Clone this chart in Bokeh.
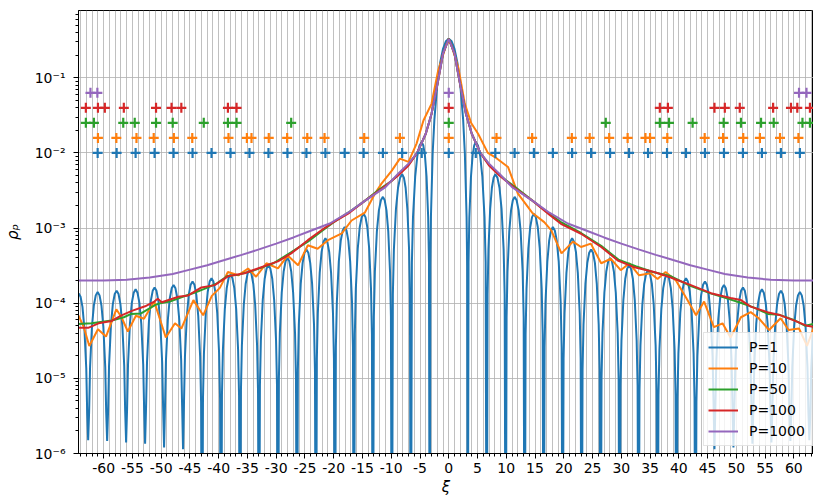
from bokeh.plotting import figure
from bokeh.models import Range1d, FixedTicker, CustomJSTickFormatter, Legend, LegendItem
from bokeh.embed import file_html
from bokeh.resources import INLINE

# ---------------- data ----------------
# P=1: main lobe (right half), zero positions, lobe peaks, dip depths
p1_main_x = [0.0, 0.5, 1.0, 1.5, 2.0, 2.5, 2.8, 3.1, 3.2]
p1_main_y = [0.33, 0.306, 0.242, 0.159, 0.081, 0.0277, 0.0098, 0.0014, 0.00032]
p1_zero_x = [3.3, 6.6, 9.9, 13.2, 16.5, 19.8, 23.1, 26.4, 29.7, 33.0, 36.3, 39.6,
             42.9, 46.2, 49.5, 52.8, 56.1, 59.4, 62.7, 66.0]
p1_dip_y = [1e-9, 1e-9, 1e-9, 1e-9, 1e-9, 1e-9, 1e-9, 1e-9, 1e-9, 1e-9, 1e-9, 1e-9,
            1e-9, 1.14e-6, 1.2e-6, 1.35e-6, 1.4e-6, 1.47e-6, 1.5e-6, 1.55e-6]
p1_peak_x = [4.7, 8.1, 11.45, 14.8, 18.1, 21.45, 24.75, 28.05, 31.35, 34.65, 37.95,
             41.25, 44.55, 47.85, 51.15, 54.45, 57.75, 61.05, 64.35]
p1_peak_y = [1.39e-2, 5.2e-3, 2.6e-3, 1.55e-3, 1.03e-3, 7.3e-4, 5.2e-4, 4.0e-4, 3.2e-4,
             2.75e-4, 2.4e-4, 2.15e-4, 1.95e-4, 1.75e-4, 1.62e-4, 1.53e-4, 1.47e-4,
             1.41e-4, 1.35e-4]
# shape of one side lobe flank (fraction of the way zero->peak, decades below peak)
lobe_frac = [0.1, 0.2, 0.4, 0.6, 0.8]
lobe_drop = [-1.6, -1.0, -0.46, -0.18, -0.045]

p10_x = [-64.4, -63.5, -62.5, -61.0, -59.6, -57.8, -56.9, -55.8, -54.4, -53.0, -51.2, -49.2,
         -47.6, -46.5, -44.4, -42.7, -41.2, -39.8, -38.4, -36.6, -34.9, -33.5, -31.7, -29.7,
         -28.0, -26.2, -24.5, -22.8, -21.0, -18.6, -16.9, -14.6, -12.8, -11.7, -9.9, -8.5,
         -7.0, -5.6, -4.4, -3.0, -1.84, -0.4, 0.0, 0.4, 1.63, 2.8, 3.9, 5.1, 6.8, 8.3, 10.3,
         12.0, 14.5, 16.6, 17.8, 19.6, 21.6, 23.0, 24.7, 26.5, 28.2, 29.9, 31.4, 33.1, 35.1,
         36.3, 37.7, 39.5, 41.5, 43.0, 44.4, 46.1, 47.6, 49.0, 50.8, 52.5, 53.9, 55.7, 57.7,
         59.1, 60.9, 62.3, 63.4, 64.4]
p10_y = [6.9e-5, 4.9e-5, 2.7e-5, 4.5e-5, 3.6e-5, 8.3e-5, 6.5e-5, 4.2e-5, 6.8e-5, 6.2e-5,
         1.05e-4, 3.5e-5, 5.4e-5, 4.6e-5, 1.1e-4, 6.9e-5, 1.25e-4, 1.6e-4, 2.6e-4, 2.35e-4,
         2.9e-4, 2.25e-4, 3.4e-4, 2.9e-4, 4.3e-4, 3.2e-4, 5.9e-4, 5.3e-4, 6.9e-4, 8.5e-4,
         1.26e-3, 1.6e-3, 2.9e-3, 3.9e-3, 5.8e-3, 8.4e-3, 7.6e-3, 1.33e-2, 2.7e-2, 4.5e-2,
         0.125, 0.28, 0.30, 0.28, 0.14, 4.5e-2, 2.5e-2, 1.8e-2, 1.0e-2, 8.5e-3, 6.5e-3,
         2.9e-3, 1.6e-3, 1.2e-3, 9.4e-4, 4.6e-4, 6.6e-4, 5.6e-4, 6.2e-4, 3.4e-4, 3.9e-4,
         2.75e-4, 3.4e-4, 2.35e-4, 2.5e-4, 2.1e-4, 2.6e-4, 2.0e-4, 1.1e-4, 6.9e-5, 1.05e-4,
         4.8e-5, 5.4e-5, 3.5e-5, 6.5e-5, 7.6e-5, 6.3e-5, 4.4e-5, 6.3e-5, 4.4e-5, 4.6e-5,
         2.7e-5, 4.6e-5, 6.0e-5]

p50_x = [-64.4, -62.1, -58.6, -56.5, -55.2, -53.5, -51.0, -50.2, -48.5, -46.5, -44.0, -42.5,
         -40.5, -38.5, -36.5, -33.5, -30.5, -27.5, -24.5, -22.0, -20.0, -17.5, -14.6, -12.0,
         -10.0, -8.5, -7.0, -5.5, -4.0, -3.0, -1.85, -1.0, 0.0, 1.0, 1.85, 3.0, 4.0, 5.5,
         7.0, 8.5, 10.0, 12.0, 14.6, 17.5, 19.5, 23.0, 26.5, 29.5, 32.5, 35.5, 38.5, 42.0,
         45.5, 48.5, 51.0, 53.0, 55.5, 57.5, 60.0, 62.0, 63.4, 64.4]
p50_y = [5.3e-5, 5.4e-5, 5.9e-5, 6.5e-5, 7.2e-5, 7.3e-5, 9.5e-5, 1.0e-4, 1.05e-4, 1.2e-4,
         1.4e-4, 1.55e-4, 1.8e-4, 2.3e-4, 2.4e-4, 2.8e-4, 3.4e-4, 4.7e-4, 6.6e-4, 9.2e-4,
         1.2e-3, 1.6e-3, 2.3e-3, 3.3e-3, 4.2e-3, 5.4e-3, 7.0e-3, 1.0e-2, 1.8e-2, 3.3e-2,
         0.092, 0.21, 0.335, 0.21, 0.092, 3.3e-2, 1.8e-2, 1.0e-2, 7.0e-3, 5.4e-3, 4.3e-3,
         3.3e-3, 2.3e-3, 1.55e-3, 1.2e-3, 8.6e-4, 5.8e-4, 3.8e-4, 3.1e-4, 2.6e-4, 2.3e-4,
         1.7e-4, 1.35e-4, 1.15e-4, 1.0e-4, 8.8e-5, 7.2e-5, 7.0e-5, 6.0e-5, 5.0e-5, 5.3e-5,
         5.3e-5]

p100_x = [-64.4, -62.7, -60.9, -58.6, -56.9, -55.1, -52.8, -51.2, -50.6, -49.9, -47.0,
          -45.3, -43.0, -40.7, -38.4, -35.5, -33.2, -29.7, -27.4, -24.5, -21.6, -20.4,
          -17.5, -14.6, -11.5, -8.8, -7.0, -5.5, -4.0, -3.0, -1.85, -1.0, 0.0, 1.0, 1.85,
          3.0, 4.0, 5.5, 7.0, 8.8, 11.5, 14.6, 17.5, 19.5, 23.0, 26.5, 29.4, 32.3, 35.7,
          38.6, 42.1, 45.6, 49.0, 50.8, 52.5, 55.4, 57.7, 60.0, 62.3, 64.4]
p100_y = [4.7e-5, 4.7e-5, 5.4e-5, 5.8e-5, 6.9e-5, 7.9e-5, 9.1e-5, 1.05e-4, 1.15e-4, 1.03e-4,
          1.22e-4, 1.27e-4, 1.62e-4, 1.74e-4, 2.28e-4, 2.5e-4, 2.9e-4, 3.6e-4, 4.6e-4,
          6.9e-4, 1.0e-3, 1.15e-3, 1.55e-3, 2.3e-3, 3.4e-3, 5.0e-3, 6.8e-3, 1.0e-2, 1.8e-2,
          3.3e-2, 0.092, 0.21, 0.33, 0.21, 0.092, 3.3e-2, 1.8e-2, 1.0e-2, 6.8e-3, 5.0e-3,
          3.4e-3, 2.3e-3, 1.5e-3, 1.14e-3, 8.4e-4, 5.6e-4, 3.7e-4, 3.0e-4, 2.6e-4, 2.2e-4,
          1.74e-4, 1.36e-4, 1.17e-4, 1.1e-4, 9.0e-5, 7.6e-5, 6.9e-5, 5.9e-5, 5.0e-5, 4.7e-5]

p1000_x = [-64.4, -60.0, -56.0, -52.0, -48.0, -45.0, -42.0, -39.0, -36.0, -33.0, -30.0,
           -27.0, -24.0, -20.7, -17.5, -14.6, -11.0, -8.8, -7.0, -5.5, -4.0, -3.0, -1.85,
           -1.0, 0.0, 1.0, 1.85, 3.0, 4.0, 5.5, 7.0, 8.8, 11.0, 14.6, 17.5, 20.7, 24.0,
           27.0, 30.0, 33.0, 36.0, 39.0, 42.0, 45.0, 48.0, 52.0, 56.0, 60.0, 64.4]
p1000_y = [2.0e-4, 2.0e-4, 2.05e-4, 2.2e-4, 2.45e-4, 2.8e-4, 3.2e-4, 3.75e-4, 4.4e-4,
           5.2e-4, 6.2e-4, 7.5e-4, 9.2e-4, 1.15e-3, 1.6e-3, 2.3e-3, 3.5e-3, 5.3e-3, 7.2e-3,
           1.0e-2, 1.8e-2, 3.3e-2, 0.092, 0.21, 0.33, 0.21, 0.092, 3.3e-2, 1.8e-2, 1.0e-2,
           7.2e-3, 5.3e-3, 3.5e-3, 2.3e-3, 1.6e-3, 1.15e-3, 9.2e-4, 7.5e-4, 6.2e-4, 5.2e-4,
           4.4e-4, 3.75e-4, 3.2e-4, 2.8e-4, 2.45e-4, 2.2e-4, 2.05e-4, 2.0e-4, 2.0e-4]

# "+" marker positions per series and the level each row sits at
p1_mark_x = [-61.05, -57.75, -54.45, -51.15, -47.85, -44.55, -41.25, -37.95, -34.65, -31.35,
             -28.05, -24.75, -21.45, -18.1, -14.8, -11.45, -8.1, -4.7, 0.0, 4.7, 8.1, 11.45,
             14.8, 18.1, 21.45, 24.75, 28.05, 31.35, 34.65, 37.95, 41.25, 44.55, 47.85,
             51.15, 54.45, 57.75, 61.05]
p10_mark_x = [-61.0, -57.8, -54.3, -51.3, -47.8, -44.6, -38.3, -35.1, -34.3, -31.3, -28.1,
              -24.6, -21.6, -14.7, -8.5, 0.0, 8.3, 14.5, 21.4, 24.5, 27.9, 31.1, 34.2, 35.0,
              38.0, 44.5, 47.7, 51.2, 54.1, 57.6, 60.8]
p50_mark_x = [-63.1, -61.7, -56.6, -54.6, -50.9, -48.0, -42.6, -38.4, -36.9, -27.4, 0.0,
              27.3, 36.7, 38.3, 42.4, 47.8, 50.8, 54.3, 56.5, 61.5, 62.8]
p100_mark_x = [-63.1, -61.0, -59.8, -56.5, -50.9, -48.2, -46.5, -38.4, -36.9, 0.0, 36.7,
               38.1, 46.2, 48.0, 50.6, 56.4, 59.5, 60.6, 62.8]
p1000_mark_x = [-62.3, -61.1, 0.0, 60.9, 62.2]
mark_levels = [0.01, 0.0158, 0.0251, 0.0398, 0.0631]

labels = ["P=1", "P=10", "P=50", "P=100", "P=1000"]
colors = ["#1f77b4", "#ff7f0e", "#2ca02c", "#d62728", "#9467bd"]
x_ticks = list(range(-60, 61, 5))
x_minor = list(range(-64, 64))
y_ticks = [1e-6, 1e-5, 1e-4, 1e-3, 1e-2, 1e-1]

# ---------------- build the P=1 curve from its read lobes ----------------
rx = list(p1_main_x)
ry = list(p1_main_y)
for k in range(len(p1_peak_x)):
    z0, z1 = p1_zero_x[k], p1_zero_x[k + 1]
    xp, yp = p1_peak_x[k], p1_peak_y[k]
    rx.append(z0)
    ry.append(p1_dip_y[k])
    for f, d in zip(lobe_frac, lobe_drop):
        rx.append(z0 + f * (xp - z0))
        ry.append(yp * 10 ** d)
    rx.append(xp)
    ry.append(yp)
    for f, d in zip(reversed(lobe_frac), reversed(lobe_drop)):
        rx.append(z1 - f * (z1 - xp))
        ry.append(yp * 10 ** d)
rx.append(p1_zero_x[-1])
ry.append(p1_dip_y[-1])
p1_x = [-v for v in reversed(rx[1:])] + rx
p1_y = list(reversed(ry[1:])) + ry

series_x = [p1_x, p10_x, p50_x, p100_x, p1000_x]
series_y = [p1_y, p10_y, p50_y, p100_y, p1000_y]
marks_x = [p1_mark_x, p10_mark_x, p50_mark_x, p100_mark_x, p1000_mark_x]

# ---------------- figure ----------------
FONT = "DejaVu Sans"
p = figure(width=813, height=498, output_backend="svg", toolbar_location=None,
           x_range=Range1d(-64.38, 63.42), y_range=Range1d(1e-6, 0.785),
           y_axis_type="log", min_border_left=76, min_border_right=0,
           min_border_top=10, min_border_bottom=45)
p.background_fill_color = "white"
p.border_fill_color = "white"
p.outline_line_color = "black"
p.outline_line_width = 1

p.xgrid.ticker = FixedTicker(ticks=x_minor)
p.ygrid.ticker = FixedTicker(ticks=y_ticks)
p.grid.grid_line_color = "#b0b0b0"
p.grid.grid_line_width = 0.8

p.xaxis.ticker = FixedTicker(ticks=x_ticks, minor_ticks=x_minor)
p.xaxis.formatter = CustomJSTickFormatter(code="return tick.toFixed(0);")
p.yaxis.ticker = FixedTicker(
    ticks=y_ticks,
    minor_ticks=[m * 10.0 ** e for e in range(-6, 0) for m in range(2, 10)])
p.yaxis.formatter = CustomJSTickFormatter(code="""
const e = Math.round(Math.log10(tick));
const m = {"-": "\\u207b", "0": "\\u2070", "1": "\\u00b9", "2": "\\u00b2", "3": "\\u00b3",
           "4": "\\u2074", "5": "\\u2075", "6": "\\u2076", "7": "\\u2077", "8": "\\u2078",
           "9": "\\u2079"};
let s = "";
for (const c of String(e)) { s += m[c]; }
return "10" + s;
""")

for ax in (p.xaxis[0], p.yaxis[0]):
    ax.axis_line_color = "black"
    ax.axis_line_width = 1
    ax.major_tick_line_color = "black"
    ax.minor_tick_line_color = "black"
    ax.major_tick_in = 0
    ax.major_tick_out = 5
    ax.minor_tick_in = 0
    ax.minor_tick_out = 3
    ax.major_label_text_font = FONT
    ax.major_label_text_font_size = "14px"
    ax.major_label_text_color = "black"
    ax.axis_label_text_font = FONT
    ax.axis_label_text_font_size = "15px"
    ax.axis_label_text_font_style = "italic"
    ax.axis_label_text_color = "black"

p.xaxis.axis_label = "ξ"
p.xaxis.axis_label_standoff = 2
p.xaxis.major_label_standoff = 4
p.yaxis.axis_label = "ρₚ"
p.yaxis.axis_label_standoff = 10
p.yaxis.major_label_standoff = 8

renderers = []
for xs, ys, c in zip(series_x, series_y, colors):
    r = p.line(xs, ys, line_color=c, line_width=2)
    renderers.append(r)

for mx, lvl, c in zip(marks_x, mark_levels, colors):
    p.scatter(mx, [lvl] * len(mx), marker="cross", size=10, line_width=2.2,
              line_color=c)

legend = Legend(items=[LegendItem(label=l, renderers=[r]) for l, r in zip(labels, renderers)],
                location=(625, 7))
legend.label_text_font = FONT
legend.label_text_font_size = "14px"
legend.label_text_color = "black"
legend.glyph_width = 30
legend.glyph_height = 20
legend.label_height = 20
legend.label_width = 60
legend.label_standoff = 11
legend.spacing = 1
legend.padding = 4
legend.margin = 0
legend.background_fill_color = "white"
legend.background_fill_alpha = 0.8
legend.border_line_color = "#cccccc"
legend.border_line_width = 1
p.add_layout(legend)

open("out.html", "w").write(file_html(p, INLINE))
